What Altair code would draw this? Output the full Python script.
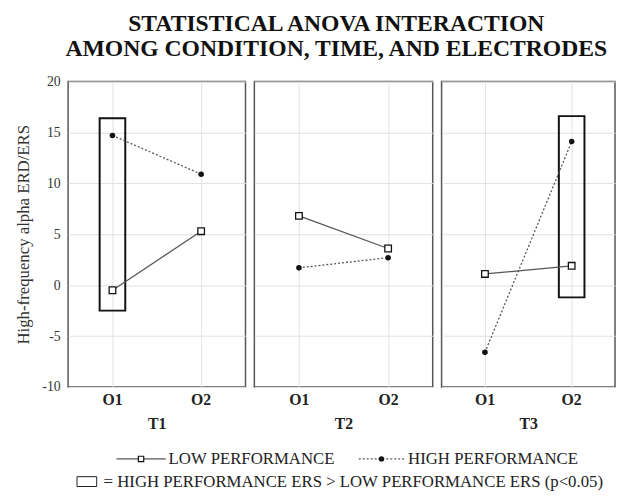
import altair as alt
import pandas as pd

FONT = "Liberation Serif"

TIMES = ["T1", "T2", "T3"]
ELECTRODES = ["O1", "O2"]
SERIES = ["LOW PERFORMANCE", "HIGH PERFORMANCE"]

# values per time (O1, O2)
low_values = [-0.5, 5.3, 6.8, 3.6, 1.1, 1.9]
high_values = [14.7, 10.9, 1.7, 2.7, -6.6, 14.1]
point_times = ["T1", "T1", "T2", "T2", "T3", "T3"]
point_electrodes = ["O1", "O2", "O1", "O2", "O1", "O2"]

# significance boxes
box_times = ["T1", "T3"]
box_electrodes = ["O1", "O2"]
box_low = [-2.5, -1.2]
box_high = [16.4, 16.6]

Y_TICKS = [-10, -5, 0, 5, 10, 15, 20]
Y_TITLE = "High-frequency alpha ERD/ERS"
TITLE = ["STATISTICAL ANOVA INTERACTION", "AMONG CONDITION, TIME, AND ELECTRODES"]
LEGEND_LABELS = ["LOW PERFORMANCE", "HIGH PERFORMANCE",
                 "= HIGH PERFORMANCE ERS > LOW PERFORMANCE ERS (p<0.05)"]

rows = []
for t, e, v in zip(point_times, point_electrodes, low_values):
    rows.append({"time": t, "electrode": e, "series": SERIES[0], "value": v})
for t, e, v in zip(point_times, point_electrodes, high_values):
    rows.append({"time": t, "electrode": e, "series": SERIES[1], "value": v})
df = pd.DataFrame(rows)
sig = pd.DataFrame({"time": box_times, "electrode": box_electrodes,
                    "lo": box_low, "hi": box_high})

y_scale = alt.Scale(domain=[-10, 20], nice=False, zero=False)
x_scale = alt.Scale(domain=ELECTRODES, paddingInner=0, paddingOuter=0)
WIDTHS = [180, 181, 176]


def y_enc(field, first):
    if first:
        ax = alt.Axis(values=Y_TICKS, title=Y_TITLE, grid=True, gridColor="#e2e2e2",
                      ticks=False, domain=False, labelFont=FONT, labelFontSize=14,
                      labelColor="#333", labelPadding=8, labelExpr="'' + datum.value",
                      titleFont=FONT, titleFontSize=17, titleFontWeight="normal",
                      titleColor="#333", titlePadding=10)
    else:
        ax = alt.Axis(values=Y_TICKS, title=Y_TITLE, grid=True, gridColor="#e2e2e2",
                      ticks=False, domain=False, labels=False, titleOpacity=0,
                      titleFontSize=1, titlePadding=0)
    return alt.Y(field, type="quantitative", scale=y_scale, axis=ax)


def x_enc(t):
    return alt.X("electrode:N", scale=x_scale, sort=ELECTRODES,
                 axis=alt.Axis(title=t, labelAngle=0, bandPosition=0.5, grid=True,
                               gridColor="#e2e2e2", ticks=False, domain=False,
                               labelFont=FONT, labelFontSize=16, labelFontWeight="bold",
                               labelColor="#222", labelPadding=5, titleFont=FONT,
                               titleFontSize=16, titleFontWeight="bold",
                               titleColor="#222", titlePadding=8))


def panel(i, t):
    first = i == 0
    base = alt.Chart(df).transform_filter(alt.datum.time == t)
    layers = []
    if t in box_times:
        layers.append(
            alt.Chart(sig).transform_filter(alt.datum.time == t)
            .mark_bar(size=26, fillOpacity=0, stroke="#111", strokeWidth=2)
            .encode(x=x_enc(t), y=y_enc("lo", first), y2="hi:Q")
        )
    low = base.transform_filter(alt.datum.series == SERIES[0])
    high = base.transform_filter(alt.datum.series == SERIES[1])
    layers += [
        low.mark_line(color="#555", strokeWidth=1.3).encode(x=x_enc(t), y=y_enc("value", first)),
        high.mark_line(color="#555", strokeWidth=1.3, strokeDash=[2, 2]).encode(
            x=x_enc(t), y=y_enc("value", first)),
        low.mark_point(shape="square", filled=True, fill="white", stroke="#111",
                       strokeWidth=1.3, size=45, opacity=1).encode(
            x=x_enc(t), y=y_enc("value", first)),
        high.mark_circle(color="#111", size=32, opacity=1).encode(
            x=x_enc(t), y=y_enc("value", first)),
    ]
    return alt.layer(*layers).properties(width=WIDTHS[i], height=310)


panels = alt.hconcat(*[panel(i, t) for i, t in enumerate(TIMES)], spacing=6)

# legend (its origin is aligned with the first panel's left edge)
dummy = pd.DataFrame({"k": [0]})
lb = alt.Chart(dummy)
R1, R2 = 15, 38
legend = alt.layer(
    lb.mark_rule(color="#555", strokeWidth=1.3).encode(
        x=alt.value(49), x2=alt.value(99), y=alt.value(R1)),
    lb.mark_point(shape="square", filled=True, fill="white", stroke="#111",
                  strokeWidth=1.2, size=30, opacity=1).encode(
        x=alt.value(74), y=alt.value(R1)),
    lb.mark_text(text=LEGEND_LABELS[0], align="left", baseline="middle", font=FONT,
                 fontSize=17, color="#222").encode(x=alt.value(102), y=alt.value(R1)),
    lb.mark_rule(color="#555", strokeWidth=1.3, strokeDash=[2, 2]).encode(
        x=alt.value(295), x2=alt.value(341), y=alt.value(R1)),
    lb.mark_circle(color="#111", size=30, opacity=1).encode(
        x=alt.value(318), y=alt.value(R1)),
    lb.mark_text(text=LEGEND_LABELS[1], align="left", baseline="middle", font=FONT,
                 fontSize=17, color="#222").encode(x=alt.value(345), y=alt.value(R1)),
    lb.mark_rect(fillOpacity=0, stroke="#222", strokeWidth=1).encode(
        x=alt.value(9), x2=alt.value(29), y=alt.value(R2 - 5), y2=alt.value(R2 + 5)),
    lb.mark_text(text=LEGEND_LABELS[2], align="left", baseline="middle", font=FONT,
                 fontSize=17, color="#222").encode(x=alt.value(36), y=alt.value(R2)),
).properties(width=540, height=44, view=alt.ViewBackground(stroke="transparent"))

chart = alt.vconcat(panels, legend, spacing=11).properties(
    title=alt.TitleParams(TITLE, font=FONT, fontSize=24, fontWeight="bold",
                          color="#111", lineHeight=25, anchor="middle", offset=13,
                          dx=22),
    padding={"left": 5, "top": 1, "right": 0, "bottom": 0},
).configure_view(stroke="#555", strokeWidth=1.5)

chart.save("out.html", embed_options={"renderer": "svg", "actions": False})
